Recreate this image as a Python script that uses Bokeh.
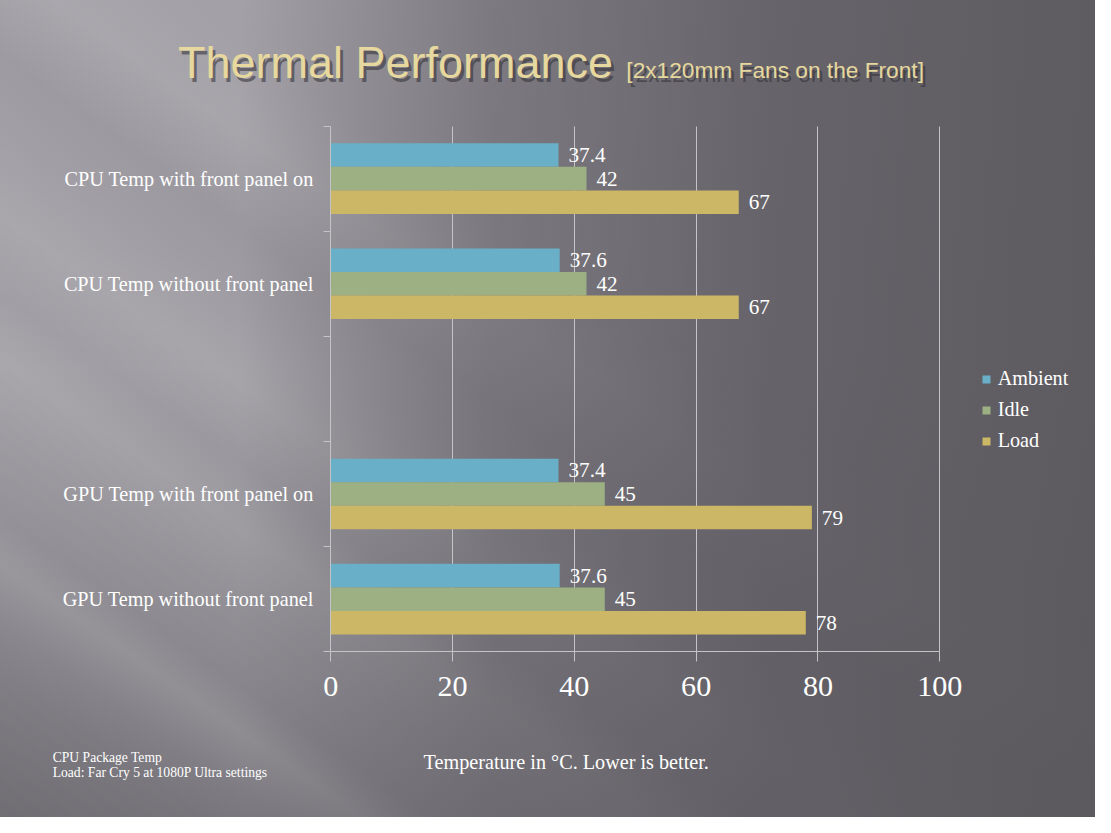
from bokeh.plotting import figure
from bokeh.models import Range1d, FixedTicker, ColumnDataSource, Label, Legend, LegendItem
from bokeh.core.properties import value
from bokeh.embed import file_html
from bokeh.resources import INLINE

# ---------------- data ----------------
categories = ["CPU Temp with front panel on", "CPU Temp without front panel", "",
              "GPU Temp with front panel on", "GPU Temp without front panel"]
ambient = [37.4, 37.6, None, 37.4, 37.6]
idle = [42, 42, None, 45, 45]
load = [67, 67, None, 79, 78]
series_names = ["Ambient", "Idle", "Load"]
series_colors = ["#69afc8", "#9cb083", "#cbb765"]
x_ticks = [0, 20, 40, 60, 80, 100]

title_text = "Thermal Performance"
subtitle_text = "[2x120mm Fans on the Front]"
xlabel_text = "Temperature in °C. Lower is better."
note_lines = ["CPU Package Temp", "Load: Far Cry 5 at 1080P Ultra settings"]

# ---------------- layout (reference pixels scaled onto the figure) ----------------
W, H = 1095, 817
SX, SY = W / 1111.0, H / 833.0
n = len(categories)
FL, FR, FT, FB = 335 * SX, 953 * SX, 128 * SY, 664 * SY
PX = (FR - FL) / 100.0
PY = (FB - FT) / n


def X(rx):
    return (rx * SX - FL) / PX


def Y(ry):
    return (FB - ry * SY) / PY


def fs(px):
    return f"{px * SX:.1f}px"


SERIF = "Liberation Serif"

p = figure(width=W, height=H, output_backend="svg", toolbar_location=None,
           x_range=Range1d(X(0), X(1111)), y_range=Range1d(Y(833), Y(0)),
           min_border=0, min_border_left=0, min_border_right=0,
           min_border_top=0, min_border_bottom=0)

p.background_fill_alpha = 0
p.border_fill_alpha = 0
p.outline_line_color = None
p.styles = {
    "background": (
        "linear-gradient(to right, rgba(92,90,96,0) 0%, rgba(92,90,96,0) 22%, "
        "rgba(92,90,96,0.55) 45%, rgba(92,90,96,0.85) 70%, rgba(90,88,93,0.95) 100%),"
        "linear-gradient(35deg, rgba(0,0,0,0.10) 0%, rgba(0,0,0,0.04) 9%, "
        "rgba(255,255,255,0.0) 12%, rgba(255,255,255,0.10) 16%, rgba(255,255,255,0.02) 19%, "
        "rgba(255,255,255,0.06) 24%, rgba(255,255,255,0.12) 29%, rgba(255,255,255,0.03) 33%, "
        "rgba(255,255,255,0.10) 38%, rgba(255,255,255,0.0) 44%, rgba(0,0,0,0.03) 48%, "
        "rgba(255,255,255,0.07) 54%, rgba(0,0,0,0.0) 60%, rgba(0,0,0,0.0) 100%),"
        "linear-gradient(to bottom, #a3a1a7 0%, #9d9ba1 45%, #7c7a80 100%)"
    )
}

GRID = "#c4c3c8"

# grid lines (bounded to the plotting region)
p.xgrid.ticker = FixedTicker(ticks=x_ticks)
p.xgrid.grid_line_color = GRID
p.xgrid.grid_line_width = 1
p.ygrid.grid_line_color = None
try:
    p.xgrid.cross_bounds = (0, n)
except Exception:
    p.xgrid.grid_line_color = None
    p.segment(x0=x_ticks, y0=[0] * len(x_ticks), x1=x_ticks, y1=[n] * len(x_ticks),
              line_color=GRID, line_width=1)

# bars
bar_h = 24 * SY / PY
offsets = [bar_h, 0.0, -bar_h]
renderers = []
for vals, name, color, off in zip([ambient, idle, load], series_names, series_colors, offsets):
    ys, xs, ts = [], [], []
    for i, v in enumerate(vals):
        if v is None:
            continue
        ys.append((n - 1 - i) + 0.5 + off)
        xs.append(v)
        ts.append(f"{v:g}")
    src = ColumnDataSource(dict(y=ys, right=xs, t=ts))
    r = p.hbar(y="y", right="right", left=0, height=bar_h, source=src,
               fill_color=color, line_color=None)
    p.text(x="right", y="y", text="t", source=src, x_offset=10,
           text_baseline="middle", text_align="left",
           text_font=value(SERIF), text_font_size=fs(21.5), text_color="#ffffff")
    renderers.append(r)

# axes, drawn at fixed locations inside the frame
p.xaxis.fixed_location = 0
p.xaxis.bounds = (0, 100)
p.xaxis.ticker = FixedTicker(ticks=x_ticks)
p.xaxis.axis_line_color = GRID
p.xaxis.major_tick_line_color = GRID
p.xaxis.major_tick_out = 10
p.xaxis.major_tick_in = 0
p.xaxis.minor_tick_line_color = None
p.xaxis.major_label_standoff = 15
p.xaxis.major_label_text_font = SERIF
p.xaxis.major_label_text_font_size = fs(30.5)
p.xaxis.major_label_text_color = "#ffffff"

centers = [(n - 1 - i) + 0.5 for i in range(n)]
p.yaxis.fixed_location = 0
p.yaxis.bounds = (0, n)
p.yaxis.ticker = FixedTicker(ticks=centers, minor_ticks=list(range(n + 1)))
p.yaxis.major_label_overrides = {c: lab for c, lab in zip(centers, categories)}
p.yaxis.axis_line_color = GRID
p.yaxis.major_tick_line_color = None
p.yaxis.major_tick_out = 0
p.yaxis.major_tick_in = 0
p.yaxis.minor_tick_line_color = GRID
p.yaxis.minor_tick_out = 7
p.yaxis.minor_tick_in = 0
p.yaxis.major_label_standoff = 10
p.yaxis.major_label_text_font = SERIF
p.yaxis.major_label_text_font_size = fs(20.5)
p.yaxis.major_label_text_color = "#ffffff"

# legend
row_h = 23
spacing = 8
legend_top = 386 * SY - row_h / 2
legend_h = 3 * row_h + 2 * spacing
legend = Legend(items=[LegendItem(label=nm, renderers=[r]) for nm, r in zip(series_names, renderers)],
                location=(995 * SX, H - (legend_top + legend_h)), glyph_width=10, glyph_height=10,
                label_text_font=SERIF, label_text_font_size=fs(20.5), label_text_color="#ffffff",
                border_line_color=None, background_fill_alpha=0, padding=0, margin=0,
                spacing=spacing, label_height=row_h, label_standoff=7)
p.add_layout(legend)

# title with shadow (text_baseline "middle": y is the middle of the text line)
for dx, dy, col, alpha in [(3, 4, "#2e2c31", 0.55), (0, 0, "#e6d89e", 1.0)]:
    p.add_layout(Label(x=X(180 + dx), y=Y(63 + dy), text=title_text, text_font="Liberation Sans",
                       text_font_size=fs(45.7), text_color=col, text_alpha=alpha,
                       text_baseline="middle"))
    p.add_layout(Label(x=X(635 + dx), y=Y(71 + dy), text=subtitle_text, text_font="Liberation Sans",
                       text_font_size=fs(23), text_color=col, text_alpha=alpha,
                       text_baseline="middle"))

# x label and notes
p.add_layout(Label(x=X(574), y=Y(776), text=xlabel_text, text_font=SERIF, text_font_size=fs(20.5),
                   text_color="#ffffff", text_align="center", text_baseline="middle"))
for k, line in enumerate(note_lines):
    p.add_layout(Label(x=X(53), y=Y(772 + 15 * k), text=line, text_font=SERIF, text_font_size=fs(13.8),
                       text_color="#ffffff", text_align="left", text_baseline="middle"))

open("out.html", "w").write(file_html(p, INLINE))
